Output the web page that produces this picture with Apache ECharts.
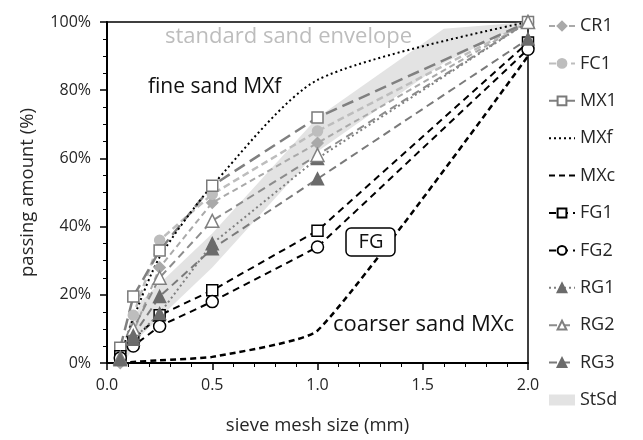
<!DOCTYPE html>
<html>
<head>
<meta charset="utf-8">
<script src="https://cdn.jsdelivr.net/npm/echarts@6/dist/echarts.min.js"></script>
<style>
  html, body { margin: 0; padding: 0; background: #fff; }
  #chart { width: 643px; height: 440px; }
</style>
</head>
<body>
<div id="chart"></div>
<script>
// sieve sizes (mm) of the grading curves
const sizes = [0.063, 0.125, 0.25, 0.5, 1.0, 2.0];

// passing amount (%) per sand
const CR1 = [0, 9, 28, 47, 64.5, 100];
const FC1 = [1, 14, 36, 49.5, 68, 100];
const MX1 = [4.5, 19.5, 33, 52, 72, 100];
const MXf = [2, 13, 31, 52, 83, 100];
const MXc = [0, 0.3, 0.8, 1.8, 9.5, 90];
const FG1 = [2, 7, 14, 21.3, 38.8, 94];
const FG2 = [1.5, 5, 10.8, 18, 34, 92];
const RG1 = [1, 7, 14.5, 35, 60, 100];
const RG2 = [1.5, 10, 25, 41.7, 61, 100];
const RG3 = [1, 8, 19.5, 33.5, 54, 95];

// standard sand envelope (EN 196-1)
const envSizes = [0.08, 0.16, 0.5, 1.0, 1.6, 2.0];
const envLow = [0, 8, 28, 62, 88, 100];
const envHigh = [2, 18, 38, 72, 98, 100];

// axis ticks
const xTicks = [0, 0.5, 1.0, 1.5, 2.0];
const yTicks = [0, 20, 40, 60, 80, 100];

const FONT = '"Open Sans"';
const TEXT = '#262626';
const pairs = (xs, ys) => xs.map((x, i) => [x, ys[i]]);

function curve(name, values, color, dash, width, symbol, fill, border, size, extra) {
  return Object.assign({
    name: name,
    type: 'line',
    data: pairs(sizes, values),
    symbol: symbol,
    symbolSize: size,
    showSymbol: size > 0,
    lineStyle: { color: color, type: dash, width: width },
    itemStyle: { color: fill, borderColor: border, borderWidth: size > 0 ? 1.5 : 0 },
    emphasis: { disabled: true },
    z: 3
  }, extra || {});
}

const chart = echarts.init(document.getElementById('chart'), null, { renderer: 'canvas' });

// envelope band: one polygon, lower boundary forward, upper boundary back
const band = {
  name: 'StSd',
  type: 'custom',
  data: envSizes.map((x, i) => [x, envLow[i], envHigh[i]]),
  encode: { x: 0, y: [1, 2] },
  itemStyle: { color: '#e3e3e3' },
  silent: true,
  z: 1,
  renderItem: function (params, api) {
    if (params.dataIndex !== 0) return null;
    const pts = [];
    for (let i = 0; i < envSizes.length; i++) pts.push(api.coord([envSizes[i], envLow[i]]));
    for (let i = envSizes.length - 1; i >= 0; i--) pts.push(api.coord([envSizes[i], envHigh[i]]));
    return {
      type: 'polygon',
      shape: { points: pts },
      style: { fill: '#e3e3e3', stroke: 'none' }
    };
  }
};

const CLEAR = 'rgba(0,0,0,0)';

const series = [
  band,
  curve('CR1', CR1, '#a9a9a9', [6, 4], 2, 'diamond', '#a9a9a9', '#a9a9a9', 11),
  curve('FC1', FC1, '#bdbdbd', [7, 4], 2.5, 'circle', '#bdbdbd', '#bdbdbd', 10),
  curve('MX1', MX1, '#808080', [12, 6], 2.5, 'rect', '#ffffff', '#7a7a7a', 11),
  curve('MXf', MXf, '#000000', [2, 3], 2, 'circle', CLEAR, CLEAR, 0, { smooth: 0.25 }),
  curve('MXc', MXc, '#000000', [6, 4], 2.5, 'circle', CLEAR, CLEAR, 0, { smooth: 0.15 }),
  curve('FG1', FG1, '#000000', [7, 5], 2, 'rect', '#ffffff', '#000000', 11),
  curve('FG2', FG2, '#000000', [7, 5], 2, 'circle', '#ffffff', '#000000', 12),
  curve('RG1', RG1, '#7f7f7f', [2, 3], 2, 'triangle', '#6b6b6b', '#6b6b6b', 12),
  curve('RG2', RG2, '#8c8c8c', [8, 5], 2, 'triangle', '#ffffff', '#808080', 13),
  curve('RG3', RG3, '#7a7a7a', [8, 5], 2, 'triangle', '#6b6b6b', '#6b6b6b', 12)
];

const option = {
  animation: false,
  backgroundColor: '#ffffff',
  textStyle: { fontFamily: FONT },
  grid: {
    left: 107, right: 115, top: 22, bottom: 75,
    show: true, borderColor: '#000', borderWidth: 1.5, backgroundColor: 'transparent'
  },
  legend: {
    orient: 'vertical',
    left: 543,
    top: 12,
    itemWidth: 26,
    itemHeight: 11,
    itemGap: 19.4,
    textStyle: { fontFamily: FONT, fontSize: 18, color: TEXT },
    data: ['CR1', 'FC1', 'MX1', 'MXf', 'MXc', 'FG1', 'FG2', 'RG1', 'RG2', 'RG3',
      { name: 'StSd', icon: 'rect' }],
    selectedMode: false
  },
  xAxis: {
    type: 'value',
    min: xTicks[0], max: xTicks[xTicks.length - 1], interval: 0.5,
    name: 'sieve mesh size (mm)',
    nameLocation: 'middle',
    nameGap: 53,
    nameTextStyle: { fontFamily: FONT, fontSize: 18.5, color: TEXT },
    axisLine: { lineStyle: { color: '#000', width: 2 } },
    axisTick: { show: true, length: 7, lineStyle: { color: '#000', width: 1.5 } },
    minorTick: { show: true, splitNumber: 5, length: 4, lineStyle: { color: '#000', width: 1 } },
    splitLine: { show: false },
    axisLabel: { fontFamily: FONT, fontSize: 16, color: TEXT, margin: 14,
      formatter: v => v.toFixed(1) }
  },
  yAxis: {
    type: 'value',
    min: yTicks[0], max: yTicks[yTicks.length - 1], interval: 20,
    name: 'passing amount (%)',
    nameLocation: 'middle',
    nameGap: 70,
    nameTextStyle: { fontFamily: FONT, fontSize: 18.5, color: TEXT },
    axisLine: { lineStyle: { color: '#000', width: 2 } },
    axisTick: { show: true, length: 7, lineStyle: { color: '#000', width: 1.5 } },
    minorTick: { show: true, splitNumber: 4, length: 4, lineStyle: { color: '#000', width: 1 } },
    splitLine: { show: false },
    axisLabel: { fontFamily: FONT, fontSize: 16, color: TEXT, margin: 16,
      formatter: '{value}%' }
  },
  series: series,
  graphic: [
    { type: 'text', x: 165, y: 37, z: 10,
      style: { text: 'standard sand envelope', fill: '#bdbdbd', font: '22px ' + FONT, verticalAlign: 'middle' } },
    { type: 'text', x: 148, y: 87, z: 10,
      style: { text: 'fine sand MXf', fill: '#111', font: '21px ' + FONT, verticalAlign: 'middle' } },
    { type: 'text', x: 333, y: 325, z: 10,
      style: { text: 'coarser sand MXc', fill: '#111', font: '22px ' + FONT, verticalAlign: 'middle' } },
    { type: 'rect', x: 346, y: 228, z: 10,
      shape: { width: 49, height: 28, r: 5 },
      style: { fill: '#fff', stroke: '#000', lineWidth: 1.5 } },
    { type: 'text', x: 371, y: 242, z: 11,
      style: { text: 'FG', fill: '#111', font: '20px ' + FONT, align: 'center', verticalAlign: 'middle' } }
  ]
};

chart.setOption(option);
</script>
</body>
</html>
